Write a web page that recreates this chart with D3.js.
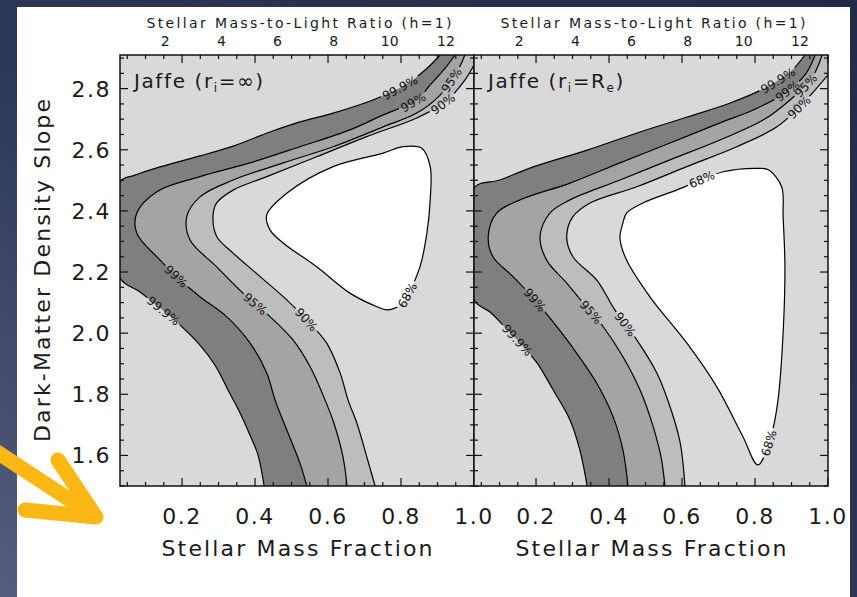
<!DOCTYPE html>
<html><head><meta charset="utf-8">
<script src="https://cdn.jsdelivr.net/npm/d3@7/dist/d3.min.js"></script>
<style>body{margin:0;background:#222b49;} svg{display:block}</style>
</head><body><svg id="c" width="857" height="597"></svg>
<script>
// ---------------- data ----------------
const fracTicks = [0.2, 0.4, 0.6, 0.8, 1.0];
const mlTicks = [2, 4, 6, 8, 10, 12];
const slopeTicks = [1.6, 1.8, 2.0, 2.2, 2.4, 2.6, 2.8];
const fracDomain = [0.03, 1.0];
const slopeDomain = [1.5, 2.91];
const mlPerFrac = 13;
const levelNames = ["99.9%", "99%", "95%", "90%", "68%"];
const xTitle = "Stellar Mass Fraction";
const yTitle = "Dark-Matter Density Slope";
const topTitle = "Stellar Mass-to-Light Ratio (h=1)";
const panelNames = [["Jaffe (r", "i", "=\u221e)"], ["Jaffe (r", "i", "=R", "e", ")"]];

// contour lines [stellar mass fraction, DM slope], ordered from the top/right exit to the bottom exit
const leftC999 = [[0.907,2.910],[0.866,2.861],[0.811,2.812],[0.723,2.763],[0.614,2.720],[0.523,2.691],[0.441,2.658],[0.340,2.612],[0.249,2.580],[0.140,2.544],[0.071,2.517],[0.030,2.495],
  [0.030,2.181],[0.085,2.135],[0.140,2.082],[0.194,2.027],[0.249,1.961],[0.290,1.896],[0.326,1.814],[0.359,1.739],[0.386,1.667],[0.408,1.602],[0.425,1.500]];
const leftC99 = [[0.948,2.910],[0.921,2.867],[0.880,2.812],[0.843,2.763],[0.751,2.714],[0.660,2.665],[0.523,2.610],[0.386,2.557],[0.249,2.512],[0.131,2.463],[0.076,2.393],[0.076,2.327],[0.140,2.239],[0.185,2.185],[0.249,2.119],[0.322,2.054],[0.386,1.968],[0.432,1.870],[0.455,1.781],[0.487,1.683],[0.523,1.575],[0.542,1.500]];
const leftC95 = [[0.975,2.910],[0.956,2.861],[0.907,2.779],[0.843,2.720],[0.751,2.675],[0.614,2.610],[0.477,2.557],[0.340,2.501],[0.249,2.446],[0.213,2.381],[0.222,2.305],[0.295,2.217],[0.367,2.131],[0.441,2.054],[0.504,1.978],[0.551,1.890],[0.592,1.781],[0.616,1.706],[0.641,1.595],[0.652,1.500]];
const leftC90 = [[1.000,2.877],[0.975,2.828],[0.921,2.756],[0.843,2.704],[0.706,2.643],[0.569,2.577],[0.432,2.512],[0.340,2.468],[0.295,2.426],[0.285,2.387],[0.295,2.316],[0.340,2.262],[0.414,2.185],[0.487,2.109],[0.542,2.043],[0.596,1.968],[0.633,1.870],[0.655,1.781],[0.679,1.706],[0.706,1.596],[0.729,1.500]];
const leftC68 = [[0.432,2.387],[0.487,2.458],[0.614,2.545],[0.751,2.589],[0.806,2.610],[0.857,2.605],[0.880,2.545],[0.880,2.436],[0.871,2.328],[0.852,2.217],[0.825,2.141],[0.797,2.092],[0.761,2.076],[0.733,2.087],[0.660,2.131],[0.569,2.217],[0.477,2.295],[0.441,2.338]];

const rightC999 = [[0.937,2.910],[0.896,2.854],[0.827,2.802],[0.732,2.753],[0.614,2.707],[0.477,2.655],[0.340,2.599],[0.183,2.540],[0.101,2.501],[0.030,2.475],
  [0.030,2.109],[0.074,2.069],[0.109,2.027],[0.156,1.968],[0.203,1.902],[0.247,1.814],[0.293,1.716],[0.320,1.618],[0.340,1.500]];
const rightC99 = [[0.965,2.910],[0.937,2.845],[0.882,2.786],[0.795,2.730],[0.704,2.688],[0.567,2.622],[0.430,2.557],[0.293,2.491],[0.156,2.436],[0.092,2.393],[0.069,2.316],[0.082,2.250],[0.137,2.185],[0.197,2.109],[0.257,2.021],[0.311,1.935],[0.366,1.837],[0.411,1.727],[0.438,1.618],[0.452,1.500]];
const rightC95 = [[0.984,2.910],[0.956,2.835],[0.896,2.763],[0.822,2.697],[0.704,2.632],[0.567,2.567],[0.430,2.501],[0.293,2.436],[0.238,2.393],[0.211,2.316],[0.229,2.239],[0.284,2.164],[0.334,2.092],[0.384,2.021],[0.438,1.923],[0.485,1.814],[0.521,1.694],[0.544,1.585],[0.553,1.500]];
const rightC90 = [[1.000,2.845],[0.965,2.796],[0.932,2.753],[0.860,2.675],[0.750,2.610],[0.613,2.545],[0.476,2.479],[0.348,2.426],[0.301,2.381],[0.284,2.316],[0.301,2.250],[0.366,2.174],[0.416,2.076],[0.476,1.978],[0.531,1.870],[0.567,1.760],[0.595,1.641],[0.608,1.500]];
const rightC68 = [[0.448,2.393],[0.493,2.426],[0.585,2.468],[0.713,2.528],[0.814,2.539],[0.838,2.534],[0.873,2.479],[0.877,2.381],[0.882,2.217],[0.877,2.001],[0.863,1.781],[0.846,1.673],[0.808,1.569],[0.767,1.661],[0.695,1.825],[0.613,1.968],[0.512,2.119],[0.448,2.239],[0.430,2.311],[0.438,2.360]];

// contour label anchors: [level index, fraction, slope]
const leftLabelAt = [[0,0.144,2.066],[0,0.797,2.802],[1,0.181,2.181],[1,0.825,2.773],[2,0.405,2.102],[2,0.921,2.841],[3,0.531,2.033],[3,0.907,2.763],[4,0.816,2.125]];
const rightLabelAt = [[0,0.142,1.971],[0,0.874,2.805],[1,0.188,2.099],[1,0.890,2.789],[2,0.342,2.060],[2,0.937,2.812],[3,0.435,2.020],[3,0.923,2.737],[4,0.658,2.495],[4,0.836,1.641]];

// ---------------- drawing ----------------
const W = 857, H = 597;
const FONT = "'DejaVu Sans', sans-serif";
const bandFill = ["#7f7f7f", "#a4a4a4", "#bdbdbd", "#d9d9d9"];
const outerFill = "#d9d9d9";
const innerFill = "#ffffff";
const plotTop = 55, plotBottom = 486;

const svg = d3.select("#c");
const defs = svg.append("defs");
const bg = defs.append("linearGradient").attr("id", "bg")
  .attr("x1", 1).attr("y1", 0).attr("x2", 0).attr("y2", 1);
bg.append("stop").attr("offset", 0).attr("stop-color", "#212a47");
bg.append("stop").attr("offset", 0.55).attr("stop-color", "#2d3757");
bg.append("stop").attr("offset", 1).attr("stop-color", "#555d7d");
svg.append("rect").attr("width", W).attr("height", H).attr("fill", "url(#bg)");
svg.append("rect").attr("x", 17).attr("y", 7).attr("width", 833).attr("height", H - 7).attr("fill", "#ffffff");

const panels = [
  {x0: 120, x1: 474, curves: [leftC999, leftC99, leftC95, leftC90], loop: leftC68, labels: leftLabelAt, name: panelNames[0], yLabels: true},
  {x0: 474, x1: 828, curves: [rightC999, rightC99, rightC95, rightC90], loop: rightC68, labels: rightLabelAt, name: panelNames[1], yLabels: false}
];

panels.forEach((p, i) => {
  const x = d3.scaleLinear().domain(fracDomain).range([p.x0, p.x1]);
  const y = d3.scaleLinear().domain(slopeDomain).range([plotBottom, plotTop]);
  const ml = d3.scaleLinear().domain(fracDomain.map(f => f * mlPerFrac)).range([p.x0, p.x1]);

  const clipId = "clip" + i;
  defs.append("clipPath").attr("id", clipId).append("rect")
    .attr("x", p.x0).attr("y", plotTop).attr("width", p.x1 - p.x0).attr("height", plotBottom - plotTop);
  const body = svg.append("g").attr("clip-path", `url(#${clipId})`);
  body.append("rect").attr("x", p.x0).attr("y", plotTop).attr("width", p.x1 - p.x0)
    .attr("height", plotBottom - plotTop).attr("fill", outerFill);

  const open = d3.line().x(d => x(d[0])).y(d => y(d[1])).curve(d3.curveCatmullRom.alpha(0.5));
  const closed = d3.line().x(d => x(d[0])).y(d => y(d[1])).curve(d3.curveCatmullRomClosed.alpha(0.5));
  const corners = [[fracDomain[1], slopeDomain[0]], [fracDomain[1], slopeDomain[1]]];
  const cornerPath = corners.map(q => "L" + x(q[0]) + "," + y(q[1])).join("") + "Z";

  p.curves.forEach((c, k) => {
    body.append("path").attr("d", open(c) + cornerPath).attr("fill", bandFill[k]);
  });
  body.append("path").attr("d", closed(p.loop)).attr("fill", innerFill);

  // contour lines with gaps under labels
  const maskId = "mask" + i;
  const mask = defs.append("mask").attr("id", maskId).attr("maskUnits", "userSpaceOnUse")
    .attr("x", 0).attr("y", 0).attr("width", W).attr("height", H);
  mask.append("rect").attr("width", W).attr("height", H).attr("fill", "#fff");
  const lines = body.append("g").attr("mask", `url(#${maskId})`);
  const nodes = p.curves.map(c => lines.append("path").attr("d", open(c))
      .attr("fill", "none").attr("stroke", "#000").attr("stroke-width", 1.2).node());
  nodes.push(lines.append("path").attr("d", closed(p.loop)).attr("fill", "none")
      .attr("stroke", "#000").attr("stroke-width", 1.2).node());

  p.labels.forEach(([lvl, f, s]) => {
    const node = nodes[lvl];
    const tx = x(f), ty = y(s);
    const L = node.getTotalLength();
    let best = 0, bd = Infinity;
    for (let l = 0; l <= L; l += 0.5) {
      const pt = node.getPointAtLength(l);
      const d = (pt.x - tx) ** 2 + (pt.y - ty) ** 2;
      if (d < bd) { bd = d; best = l; }
    }
    const pt = node.getPointAtLength(best);
    const a = node.getPointAtLength(Math.max(0, best - 3));
    const b = node.getPointAtLength(Math.min(L, best + 3));
    let ang = Math.atan2(b.y - a.y, b.x - a.x) * 180 / Math.PI;
    if (ang > 90) ang -= 180;
    if (ang <= -90) ang += 180;
    const t = body.append("text")
      .attr("transform", `translate(${pt.x},${pt.y}) rotate(${ang})`)
      .attr("text-anchor", "middle").attr("dy", "0.36em")
      .attr("font-family", FONT).attr("font-size", 12).attr("fill", "#111")
      .text(levelNames[lvl]);
    const w = t.node().getComputedTextLength();
    mask.append("rect").attr("transform", `translate(${pt.x},${pt.y}) rotate(${ang})`)
      .attr("x", -w / 2 - 2).attr("y", -4).attr("width", w + 4).attr("height", 8).attr("fill", "#000");
  });

  // frame
  svg.append("rect").attr("x", p.x0).attr("y", plotTop).attr("width", p.x1 - p.x0)
    .attr("height", plotBottom - plotTop).attr("fill", "none").attr("stroke", "#111").attr("stroke-width", 1.5);

  // ticks (inward, IDL style)
  const tk = svg.append("g").attr("stroke", "#111").attr("stroke-width", 1.2);
  const isMajor = (v, arr) => arr.some(m => Math.abs(m - v) < 1e-6);
  x.ticks(20).forEach(v => {
    const len = isMajor(v, fracTicks) ? 8 : 4;
    tk.append("line").attr("x1", x(v)).attr("x2", x(v)).attr("y1", plotBottom).attr("y2", plotBottom - len);
    tk.append("line").attr("x1", x(v)).attr("x2", x(v)).attr("y1", plotTop).attr("y2", plotTop + len);
  });
  y.ticks(28).forEach(v => {
    const len = isMajor(v, slopeTicks) ? 8 : 4;
    tk.append("line").attr("x1", p.x0).attr("x2", p.x0 + len).attr("y1", y(v)).attr("y2", y(v));
    tk.append("line").attr("x1", p.x1).attr("x2", p.x1 - len).attr("y1", y(v)).attr("y2", y(v));
  });

  // bottom tick labels
  svg.append("g").selectAll("text").data(fracTicks).join("text")
    .attr("x", d => x(d)).attr("y", 524).attr("text-anchor", "middle")
    .attr("font-family", FONT).attr("font-size", 22).attr("letter-spacing", 1.5).attr("fill", "#1a1a1a")
    .text(d => d3.format(".1f")(d));
  // top M/L tick labels
  svg.append("g").selectAll("text").data(mlTicks).join("text")
    .attr("x", d => ml(d)).attr("y", 46).attr("text-anchor", "middle")
    .attr("font-family", FONT).attr("font-size", 14).attr("fill", "#1a1a1a")
    .text(d => d);
  // left tick labels
  if (p.yLabels) {
    svg.append("g").selectAll("text").data(slopeTicks).join("text")
      .attr("x", p.x0 - 9).attr("y", d => y(d)).attr("dy", "0.36em").attr("text-anchor", "end")
      .attr("font-family", FONT).attr("font-size", 22).attr("letter-spacing", 1.5).attr("fill", "#1a1a1a")
      .text(d => d3.format(".1f")(d));
    svg.append("text").attr("transform", `translate(50,${(plotTop + plotBottom) / 2}) rotate(-90)`)
      .attr("text-anchor", "middle").attr("font-family", FONT).attr("font-size", 22)
      .attr("textLength", 343).attr("lengthAdjust", "spacing").attr("fill", "#1a1a1a").text(yTitle);
  }
  const cx = (p.x0 + p.x1) / 2;
  svg.append("text").attr("x", cx).attr("y", 556).attr("text-anchor", "middle")
    .attr("font-family", FONT).attr("font-size", 22).attr("textLength", 271).attr("lengthAdjust", "spacing")
    .attr("fill", "#1a1a1a").text(xTitle);
  svg.append("text").attr("x", cx + 2).attr("y", 28).attr("text-anchor", "middle")
    .attr("font-family", FONT).attr("font-size", 14).attr("textLength", 305).attr("lengthAdjust", "spacing")
    .attr("fill", "#1a1a1a").text(topTitle);

  // panel name
  const nt = svg.append("text").attr("x", p.x0 + 14).attr("y", 88)
    .attr("font-family", FONT).attr("font-size", 20).attr("letter-spacing", 1.6).attr("fill", "#1a1a1a");
  p.name.forEach((part, k) => {
    nt.append("tspan").attr("font-size", k % 2 ? 12 : 20).attr("dy", k % 2 ? 4 : (k ? -4 : 0)).text(part);
  });
});

// orange annotation arrow
svg.append("path")
  .attr("d", "M-6,450 L96,517 M58,460 L96,517 L25,510")
  .attr("fill", "none").attr("stroke", "#fbb714").attr("stroke-width", 15)
  .attr("stroke-linecap", "round").attr("stroke-linejoin", "round");
</script>
</body></html>
